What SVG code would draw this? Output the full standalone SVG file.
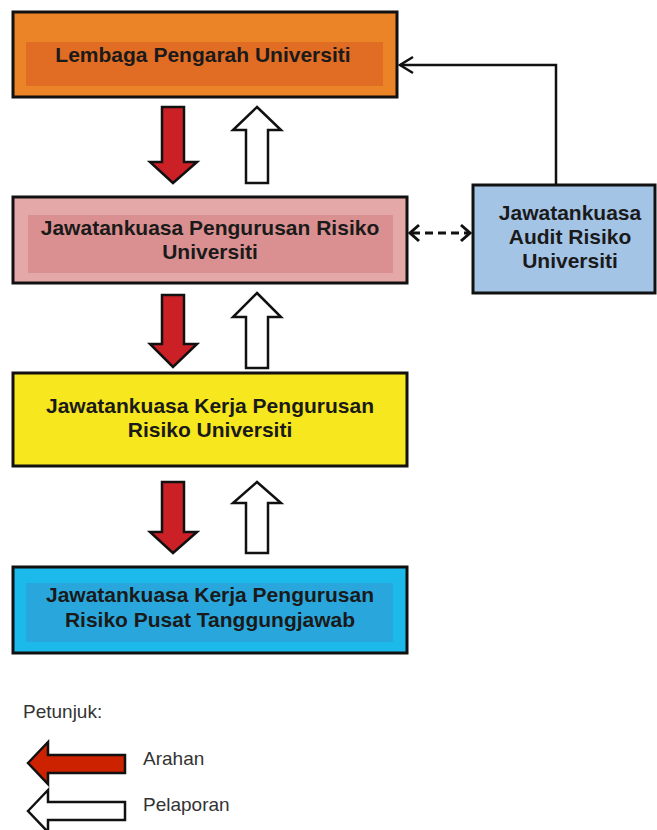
<svg xmlns="http://www.w3.org/2000/svg" width="657" height="830" viewBox="0 0 657 830">
<style>
.box{stroke:#111;stroke-width:3}
.t{font-family:"Liberation Sans",Arial,sans-serif;font-weight:bold;font-size:21px;fill:#1a1a1a;text-anchor:middle}
.lg{font-family:"Liberation Sans",Arial,sans-serif;font-size:19px;fill:#333}
.red{fill:#CC2027;stroke:#111;stroke-width:2.5;stroke-linejoin:miter}
.wht{fill:#fff;stroke:#111;stroke-width:2.5;stroke-linejoin:miter}
.con{fill:none;stroke:#111;stroke-width:2.5}
</style>
<rect width="657" height="830" fill="#fff"/>

<g id="lembaga">
<rect class="box" x="13" y="12" width="384" height="85" fill="#EB8426"/>
<rect x="26" y="42" width="357" height="44" fill="#E16C24"/>
<text class="t" x="203" y="62">Lembaga Pengarah Universiti</text>
</g>

<g id="jpru">
<rect class="box" x="13" y="197" width="394" height="86" fill="#E4A8A8"/>
<rect x="28" y="215" width="365" height="58" fill="#DA9090"/>
<text class="t" x="210" y="235">Jawatankuasa Pengurusan Risiko</text>
<text class="t" x="210" y="259">Universiti</text>
</g>

<g id="audit">
<rect class="box" x="473" y="185" width="182" height="108" fill="#A4C4E6"/>
<text class="t" x="570" y="220">Jawatankuasa</text>
<text class="t" x="570" y="244">Audit Risiko</text>
<text class="t" x="570" y="268">Universiti</text>
</g>

<g id="jkpru">
<rect class="box" x="13" y="373" width="394" height="93" fill="#F6E71E"/>
<text class="t" x="210" y="413">Jawatankuasa Kerja Pengurusan</text>
<text class="t" x="210" y="437">Risiko Universiti</text>
</g>

<g id="jkprpt">
<rect class="box" x="13" y="567" width="394" height="86" fill="#1CB9EB"/>
<rect x="26" y="583" width="367" height="59" fill="#29A7DD"/>
<text class="t" x="210" y="602">Jawatankuasa Kerja Pengurusan</text>
<text class="t" x="210" y="627">Risiko Pusat Tanggungjawab</text>
</g>

<g id="connectors">
<polygon class="red" points="162,107 184,107 184,162 197,162 173,183 150,162 162,162"/>
<polygon class="wht" points="257,107 281,130 268,130 268,183 246,183 246,130 233,130"/>
<polygon class="red" points="162,295 184,295 184,344 197,344 173,367 150,344 162,344"/>
<polygon class="wht" points="257,293 281,317 268,317 268,368 246,368 246,317 233,317"/>
<polygon class="red" points="162,482 184,482 184,532 197,532 173,553 150,532 162,532"/>
<polygon class="wht" points="257,482 281,503 268,503 268,553 246,553 246,503 233,503"/>
<polyline class="con" points="556,184 556,65 400,65"/>
<polyline class="con" points="413,57 400,65 413,73"/>
<line x1="412" y1="233" x2="468" y2="233" stroke="#111" stroke-width="3" stroke-dasharray="8,5"/>
<polyline fill="none" stroke="#111" stroke-width="3" points="419,225 410,233 419,241"/>
<polyline fill="none" stroke="#111" stroke-width="3" points="461,225 470,233 461,241"/>
</g>

<g id="legend">
<text class="lg" x="23" y="718">Petunjuk:</text>
<polygon fill="#CC2200" stroke="#111" stroke-width="2.5" points="28,763 48,742 48,755 125,755 125,773 48,773 48,784"/>
<text class="lg" x="143" y="765">Arahan</text>
<polygon class="wht" points="28,811 48,790 48,802 125,802 125,820 48,820 48,832"/>
<text class="lg" x="143" y="811">Pelaporan</text>
</g>
</svg>
